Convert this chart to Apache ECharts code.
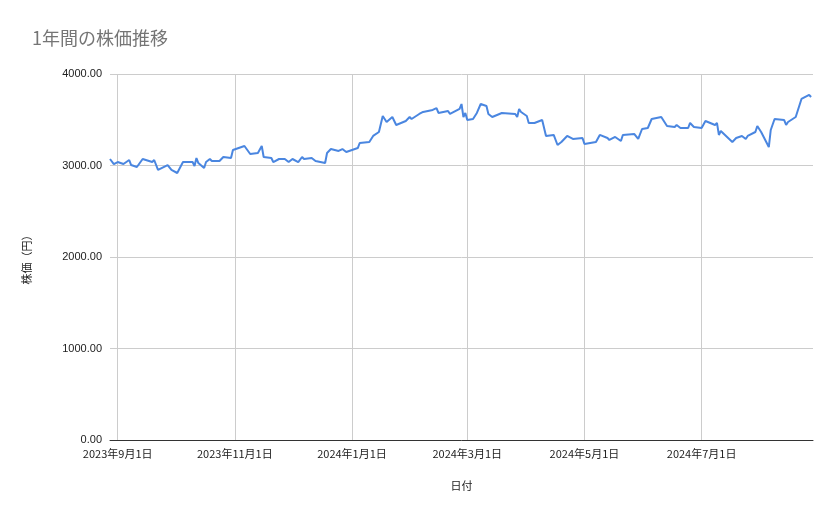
<!DOCTYPE html><html><head><meta charset="utf-8"><script src="https://cdn.jsdelivr.net/npm/echarts@6/dist/echarts.min.js"></script></head><body style="margin:0"><div id="c" style="width:839px;height:519px"></div><script>
const dates=["2023-08-28","2023-08-30","2023-09-01","2023-09-04","2023-09-07","2023-09-08","2023-09-11","2023-09-14","2023-09-19","2023-09-20","2023-09-22","2023-09-27","2023-09-29","2023-10-02","2023-10-03","2023-10-05","2023-10-10","2023-10-11","2023-10-12","2023-10-13","2023-10-16","2023-10-17","2023-10-19","2023-10-20","2023-10-24","2023-10-26","2023-10-30","2023-10-31","2023-11-03","2023-11-06","2023-11-09","2023-11-13","2023-11-15","2023-11-16","2023-11-20","2023-11-21","2023-11-24","2023-11-27","2023-11-29","2023-12-01","2023-12-04","2023-12-06","2023-12-07","2023-12-11","2023-12-13","2023-12-18","2023-12-19","2023-12-21","2023-12-25","2023-12-27","2023-12-29","2024-01-04","2024-01-05","2024-01-10","2024-01-12","2024-01-15","2024-01-17","2024-01-19","2024-01-22","2024-01-24","2024-01-29","2024-01-31","2024-02-01","2024-02-05","2024-02-07","2024-02-12","2024-02-14","2024-02-15","2024-02-20","2024-02-21","2024-02-26","2024-02-27","2024-02-28","2024-02-29","2024-03-01","2024-03-04","2024-03-06","2024-03-08","2024-03-11","2024-03-12","2024-03-14","2024-03-19","2024-03-26","2024-03-27","2024-03-28","2024-03-29","2024-04-01","2024-04-02","2024-04-05","2024-04-09","2024-04-11","2024-04-15","2024-04-17","2024-04-19","2024-04-22","2024-04-25","2024-04-30","2024-05-01","2024-05-07","2024-05-09","2024-05-13","2024-05-14","2024-05-17","2024-05-20","2024-05-21","2024-05-27","2024-05-29","2024-05-31","2024-06-03","2024-06-05","2024-06-10","2024-06-13","2024-06-17","2024-06-18","2024-06-20","2024-06-24","2024-06-25","2024-06-27","2024-07-01","2024-07-03","2024-07-08","2024-07-09","2024-07-10","2024-07-11","2024-07-17","2024-07-19","2024-07-22","2024-07-24","2024-07-25","2024-07-29","2024-07-30","2024-08-01","2024-08-05","2024-08-06","2024-08-08","2024-08-13","2024-08-14","2024-08-15","2024-08-19","2024-08-22","2024-08-26","2024-08-27"];
const prices=[3071,3016,3038,3016,3060,3005,2984,3071,3038,3060,2951,3005,2951,2918,2929,3038,3038,2995,3082,3027,2973,3038,3071,3049,3049,3093,3082,3169,3191,3213,3126,3137,3213,3093,3082,3038,3071,3071,3038,3071,3038,3093,3071,3082,3049,3027,3137,3180,3159,3180,3148,3191,3246,3257,3323,3366,3541,3475,3530,3443,3486,3530,3508,3563,3585,3607,3628,3574,3596,3563,3618,3672,3530,3574,3497,3508,3574,3672,3650,3563,3530,3574,3563,3530,3618,3585,3541,3465,3465,3497,3323,3334,3224,3257,3323,3290,3301,3235,3257,3334,3301,3279,3312,3268,3334,3344,3290,3399,3410,3508,3530,3432,3421,3443,3410,3410,3465,3421,3410,3486,3443,3465,3334,3377,3257,3301,3323,3290,3323,3366,3432,3366,3202,3388,3508,3497,3443,3475,3530,3727,3771,3749];
const tickDates=["2023-09-01","2023-11-01","2024-01-01","2024-03-01","2024-05-01","2024-07-01"];
const ts=d=>+new Date(d+"T00:00:00");
const ticks=tickDates.map(ts);
const c=echarts.init(document.getElementById('c'));
c.setOption({
 title:{text:'1年間の株価推移',left:27,top:24,textStyle:{color:'#757575',fontSize:18,fontWeight:'normal',fontFamily:'Noto Sans CJK JP'}},
 grid:{left:110,right:26,top:74,bottom:79},
 xAxis:{type:'value',min:ts('2023-08-28'),max:ts('2024-08-28'),
  name:'日付',nameLocation:'middle',nameGap:40,nameTextStyle:{fontSize:11,color:'#222',fontFamily:'Noto Sans CJK JP'},
  axisLine:{lineStyle:{color:'#333'}},axisTick:{show:false,customValues:ticks},
  splitLine:{show:true,lineStyle:{color:'#ccc'}},
  axisLabel:{customValues:ticks,color:'#222',fontSize:11,fontFamily:'Noto Sans CJK JP',formatter:v=>{const d=new Date(v);return d.getFullYear()+'年'+(d.getMonth()+1)+'月'+d.getDate()+'日';}}},
 yAxis:{type:'value',min:0,max:4000,interval:1000,name:'株価（円）',nameLocation:'middle',nameGap:78,nameTextStyle:{fontSize:11,color:'#222',fontFamily:'Noto Sans CJK JP'},
  axisLabel:{color:'#222',fontSize:11,formatter:v=>v.toFixed(2)},splitLine:{lineStyle:{color:'#ccc'}},axisLine:{show:false},axisTick:{show:false}},
 series:[{type:'line',data:dates.map((d,i)=>[ts(d),prices[i]]),showSymbol:false,lineStyle:{color:'#4a86e0',width:2},itemStyle:{color:'#4a86e0'}}],
 animation:false
});
</script></body></html>
